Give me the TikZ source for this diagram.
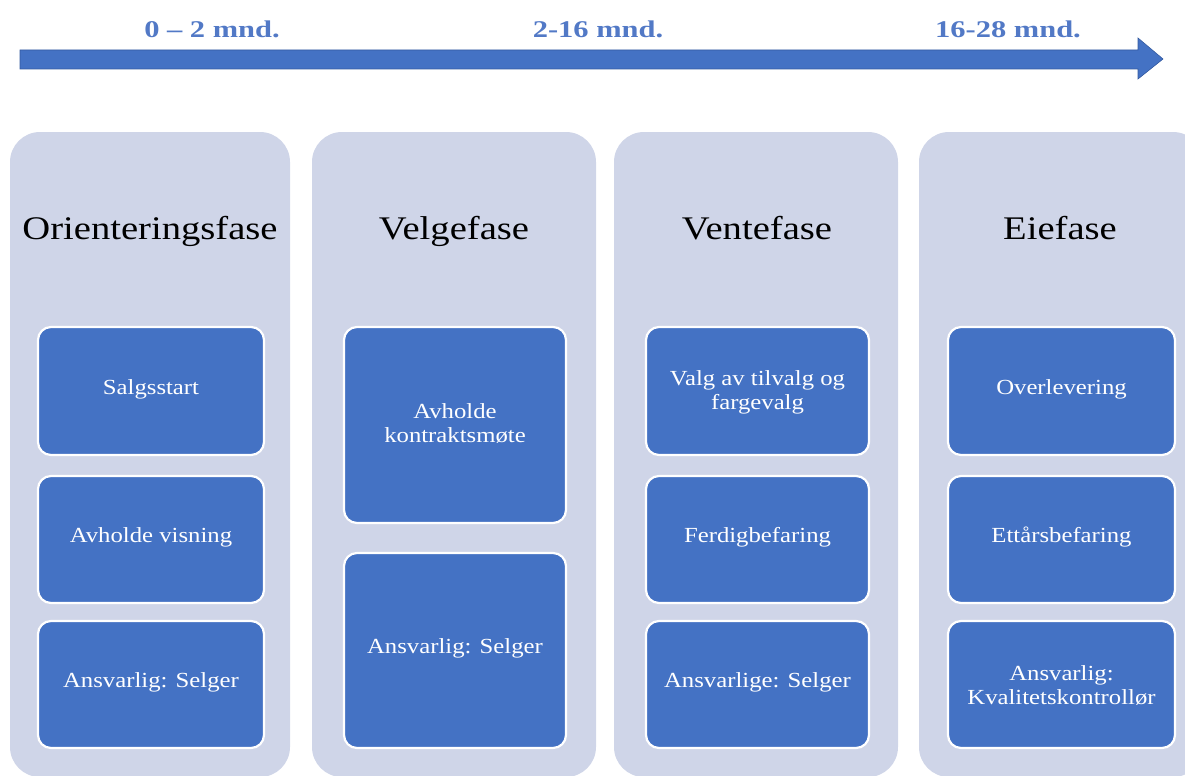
\documentclass[tikz,border=0pt]{standalone}
\usepackage{fontspec}
\setmainfont{Liberation Serif}
\definecolor{phasebg}{RGB}{207,213,232}
\definecolor{stepblue}{RGB}{68,114,196}
\definecolor{arrowedge}{RGB}{52,90,160}
\definecolor{timeblue}{RGB}{82,121,198}

\tikzset{
  phasebox/.style={fill=phasebg, draw=none, rounded corners=30bp},
  stepbox/.style={rectangle, fill=stepblue, draw=white, line width=2.2bp,
    rounded corners=13bp, inner sep=0pt},
  steptext/.style={text=white, align=center, xscale=1.15, inner sep=0pt,
    font=\fontsize{21.5bp}{24bp}\selectfont},
  phasetitle/.style={text=black, xscale=1.17, inner sep=0pt, anchor=base,
    font=\fontsize{33bp}{36bp}\selectfont},
  timelabel/.style={text=timeblue, xscale=1.27, inner sep=0pt,
    font=\fontsize{24bp}{26bp}\selectfont\bfseries},
}

% step box: [text shift] {name} {x1} {y1} {x2} {y2} {text}, y grows downward
\newcommand{\stepat}[7][2]{%
  \node[stepbox, minimum width={(#5-#3)*1bp}, minimum height={(#6-#4)*1bp}]
    (#2) at ({(#3+#5)/2},{(#4+#6)/2}) {};
  \node[steptext] (#2t) at ([yshift=#1bp]#2.center) {#7};
}

\begin{document}
\begin{tikzpicture}[x=1bp, y=-1bp]
\useasboundingbox (0,0) rectangle (1185,776);

% time arrow
\draw[fill=stepblue, draw=arrowedge, line width=0.6bp, line join=miter]
  (20,50) -- (1138,50) -- (1138,38) -- (1163,59) -- (1138,79)
  -- (1138,69) -- (20,69) -- cycle;
\node[timelabel] (t1) at (212,29) {0 -- 2 mnd.};
\node[timelabel] (t2) at (598,29) {2-16 mnd.};
\node[timelabel] (t3) at (1008,29) {16-28 mnd.};

% phase columns
\fill[phasebox] (10,132) rectangle (290,777);
\fill[phasebox] (312,132) rectangle (596,777);
\fill[phasebox] (614,132) rectangle (898,777);
\fill[phasebox] (919,132) rectangle (1203,777);

\node[phasetitle] (p1) at (150,239) {Orienteringsfase};
\node[phasetitle] (p2) at (454,239) {Velgefase};
\node[phasetitle] (p3) at (757,239) {Ventefase};
\node[phasetitle] (p4) at (1060,239) {Eiefase};

% steps of each phase
\stepat{a1}{38}{327}{264}{455}{Salgsstart}
\stepat{a2}{38}{476}{264}{603}{Avholde visning}
\stepat{a3}{38}{621}{264}{748}{Ansvarlig: Selger}

\stepat{b1}{344}{327}{566}{523}{Avholde\\kontraktsmøte}
\stepat{b2}{344}{553}{566}{748}{Ansvarlig: Selger}

\stepat[-1]{c1}{646}{327}{869}{455}{Valg av tilvalg og\\fargevalg}
\stepat{c2}{646}{476}{869}{603}{Ferdigbefaring}
\stepat{c3}{646}{621}{869}{748}{Ansvarlige: Selger}

\stepat{d1}{948}{327}{1175}{455}{Overlevering}
\stepat{d2}{948}{476}{1175}{603}{Ettårsbefaring}
\stepat[-1]{d3}{948}{621}{1175}{748}{Ansvarlig:\\Kvalitetskontrollør}
\end{tikzpicture}
\end{document}
